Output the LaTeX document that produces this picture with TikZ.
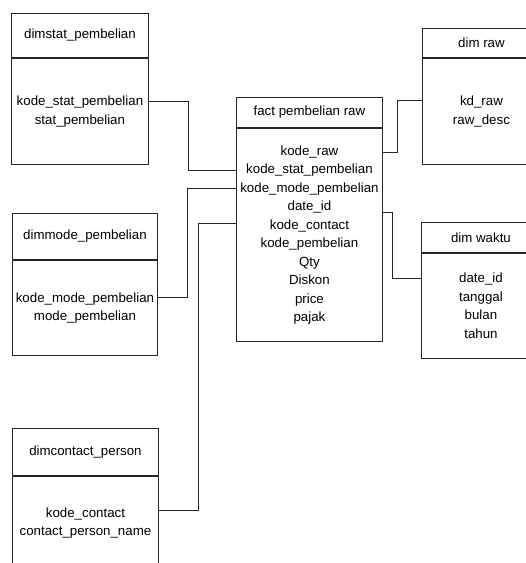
\documentclass[tikz,border=0pt]{standalone}
\usepackage{fontspec}
\setmainfont{Liberation Sans}
\newcommand\erdfont{\fontsize{13.3}{18.5}\selectfont}
\begin{document}
\begin{tikzpicture}[x=1pt,y=-1pt,
  box/.style={draw=black!85, line width=0.9pt, rectangle, inner sep=0pt,
              align=center, font=\erdfont, anchor=north west},
  link/.style={draw=black!85, line width=0.9pt}]
\useasboundingbox (0,0) rectangle (526,563);
\clip (0,0) rectangle (526,563);

% dimension: dimstat_pembelian
\node[box, minimum width=137pt, minimum height=44pt] (sh) at (11,13) {dimstat\_pembelian};
\node[box, minimum width=137pt, minimum height=106pt] (sb) at (sh.south west)
  {kode\_stat\_pembelian\\stat\_pembelian};

% dimension: dimmode_pembelian
\node[box, minimum width=145pt, minimum height=46pt] (mh) at (12,213) {dimmode\_pembelian};
\node[box, minimum width=145pt, minimum height=95pt] (mb) at (mh.south west)
  {kode\_mode\_pembelian\\mode\_pembelian};

% dimension: dimcontact_person
\node[box, minimum width=146pt, minimum height=47pt] (ch) at (12,428) {dimcontact\_person};
\node[box, minimum width=146pt, minimum height=93pt] (cb) at (ch.south west)
  {kode\_contact\\contact\_person\_name};

% fact table
\node[box, minimum width=146pt, minimum height=30pt] (fh) at (236,97) {fact pembelian raw};
\node[box, minimum width=146pt, minimum height=213pt] (fb) at (fh.south west)
  {kode\_raw\\kode\_stat\_pembelian\\kode\_mode\_pembelian\\date\_id\\kode\_contact\\
   kode\_pembelian\\Qty\\Diskon\\price\\pajak};

% dimension: dim raw
\node[box, minimum width=118pt, minimum height=29pt] (rh) at (422,28) {dim raw};
\node[box, minimum width=118pt, minimum height=106pt] (rb) at (rh.south west)
  {kd\_raw\\raw\_desc};

% dimension: dim waktu
\node[box, minimum width=119pt, minimum height=30pt] (wh) at (421,222) {dim waktu};
\node[box, minimum width=119pt, minimum height=105pt] (wb) at (wh.south west)
  {date\_id\\tanggal\\bulan\\tahun};

% relationships
\draw[link] ([yshift=10pt]sb.east) -- ++(40,0) |- ([yshift=64.5pt]fb.west);
\draw[link] ([yshift=10.5pt]mb.east) -- ++(30,0) |- ([yshift=46.5pt]fb.west);
\draw[link] ([yshift=12.5pt]cb.east) -- ++(40,0) |- ([yshift=11.5pt]fb.west);
\draw[link] ([yshift=82.5pt]fb.east) -- ++(15,0) |- ([yshift=11pt]rb.west);
\draw[link] ([yshift=22.5pt]fb.east) -- ++(10,0) |- ([yshift=27.5pt]wb.west);
\end{tikzpicture}
\end{document}
